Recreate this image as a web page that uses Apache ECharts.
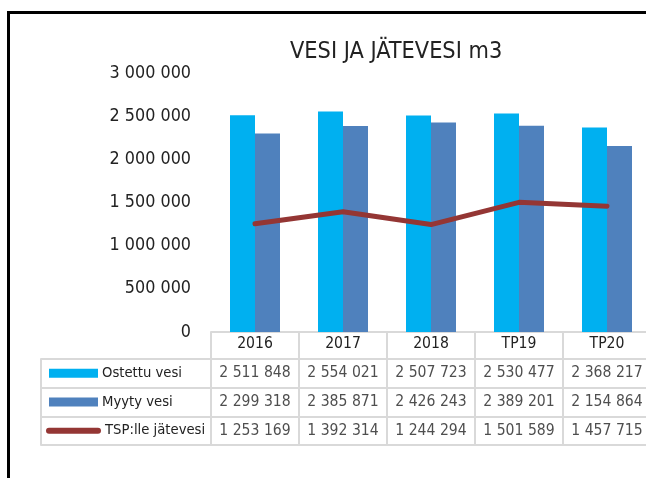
<!DOCTYPE html>
<html>
<head>
<meta charset="utf-8">
<script src="https://cdn.jsdelivr.net/npm/echarts@6/dist/echarts.min.js"></script>
<style>
html,body{margin:0;padding:0;background:#fff;}
#c{width:646px;height:478px;}
</style>
</head>
<body>
<div id="c"></div>
<script>
var categories = ['2016', '2017', '2018', 'TP19', 'TP20'];
var ostettuVesi = [2511848, 2554021, 2507723, 2530477, 2368217];
var myytyVesi = [2299318, 2385871, 2426243, 2389201, 2154864];
var tspJatevesi = [1253169, 1392314, 1244294, 1501589, 1457715];
var seriesNames = ['Ostettu vesi', 'Myyty vesi', 'TSP:lle jätevesi'];
var yTicks = [0, 500000, 1000000, 1500000, 2000000, 2500000, 3000000];
var titleText = 'VESI JA JÄTEVESI m3';

var TXT = '#222222';
var GRID_LINE = '#d9d9d9';
var C_A = '#00b0f0', C_B = '#4f81bd', C_L = '#943634';

function fmt(v) { return String(v).replace(/\B(?=(\d{3})+(?!\d))/g, ' '); }

// pick a narrow font if available
var cv = document.createElement('canvas').getContext('2d');
function w(font, size, s) { cv.font = size + 'px ' + font; return cv.measureText(s).width; }
function has(f) {
  var s = 'abcdefghijklmnopqrstuvwxyz0123456789ABCDEFGHIJ';
  var q = "'" + f + "'";
  return w(q + ', monospace', 40, s) !== w('monospace', 40, s) || w(q + ', serif', 40, s) !== w('serif', 40, s);
}
var cands = ['Liberation Sans Narrow', 'Arial Narrow', 'DejaVu Sans Condensed', 'Roboto Condensed', 'Open Sans Condensed', 'Liberation Sans'];
var FONT = 'sans-serif';
for (var i = 0; i < cands.length; i++) { if (has(cands[i])) { FONT = "'" + cands[i] + "'"; break; } }
function fit(s, target) { return Math.round(100 * target / w(FONT, 100, s) * 10) / 10; }

var fsTitle = fit(titleText, 212);
var fsY = Math.round(fit('3 000 000', 73) * 1.12 * 10) / 10;
var fsNum = Math.round(fit('2 511 848', 65) * 1.1 * 10) / 10;
var fsRow = Math.round(fit('TSP:lle jätevesi', 100) * 10) / 10;
var titleW = w(FONT, fsTitle, titleText);

var rows = [ostettuVesi, myytyVesi, tspJatevesi];
var tableData = [];
rows.forEach(function (arr, r) {
  arr.forEach(function (v, c) { tableData.push([c, r, v]); });
});

var chart = echarts.init(document.getElementById('c'), null, {renderer: 'canvas'});
chart.setOption({
  animation: false,
  backgroundColor: '#fff',
  textStyle: {fontFamily: FONT},
  title: {
    text: titleText,
    left: Math.round(396 - titleW / 2), top: Math.round(52 - fsTitle / 2),
    padding: 0,
    textStyle: {fontFamily: FONT, fontSize: fsTitle, fontWeight: 'normal', color: TXT}
  },
  graphic: [{
    type: 'rect', shape: {x: 8.5, y: 12.5, width: 700, height: 520},
    style: {fill: 'none', stroke: '#000', lineWidth: 3}, silent: true
  }],
  grid: [
    {left: 211, width: 440, top: 73, height: 259, outerBoundsMode: 'none', containLabel: false},
    {left: 41, width: 170, top: 359, height: 86, outerBoundsMode: 'none', containLabel: false},
    {left: 211, width: 440, top: 359, height: 86, outerBoundsMode: 'none', containLabel: false}
  ],
  xAxis: [
    {
      type: 'category', gridIndex: 0, data: categories,
      axisLine: {lineStyle: {color: GRID_LINE, width: 2}},
      axisTick: {show: true, length: 26, lineStyle: {color: GRID_LINE, width: 2}},
      axisLabel: {margin: 4, fontSize: fsNum, color: TXT, fontFamily: FONT, interval: 0}
    },
    {type: 'value', gridIndex: 1, show: false, min: 0, max: 1},
    {
      type: 'category', gridIndex: 2, data: categories,
      axisLine: {show: false}, axisTick: {show: false}, axisLabel: {show: false},
      splitLine: {show: true, lineStyle: {color: GRID_LINE, width: 2}}
    }
  ],
  yAxis: [
    {
      type: 'value', gridIndex: 0, min: yTicks[0], max: yTicks[yTicks.length - 1], interval: yTicks[1] - yTicks[0],
      axisLine: {show: false}, axisTick: {show: false}, splitLine: {show: false},
      axisLabel: {margin: 20, fontSize: fsY, color: TXT, fontFamily: FONT, formatter: function (v) { return fmt(v); }}
    },
    {
      type: 'category', gridIndex: 1, data: seriesNames, inverse: true,
      axisLine: {show: true, lineStyle: {color: GRID_LINE, width: 2}},
      axisTick: {show: false},
      splitLine: {show: true, lineStyle: {color: GRID_LINE, width: 2}},
      axisLabel: {
        inside: true, margin: 5, fontSize: fsRow, color: TXT, fontFamily: FONT,
        formatter: function (v, i) {
          var k = ['a', 'b', 'l'][i];
          return (k === 'l' ? '' : '{sp|}') + '{' + k + '|}{t|' + v + '}';
        },
        rich: {
          sp: {width: 3, height: 9},
          a: {width: 49, height: 9, backgroundColor: C_A},
          b: {width: 49, height: 9, backgroundColor: C_B},
          l: {width: 55, height: 6, backgroundColor: C_L, borderRadius: 3},
          t: {fontSize: fsRow, color: TXT, fontFamily: FONT, padding: [0, 0, 0, 4]}
        }
      }
    },
    {
      type: 'category', gridIndex: 2, data: seriesNames, inverse: true,
      axisLine: {show: true, lineStyle: {color: GRID_LINE, width: 2}},
      axisTick: {show: false}, axisLabel: {show: false},
      splitLine: {show: true, lineStyle: {color: GRID_LINE, width: 2}}
    }
  ],
  series: [
    {
      name: seriesNames[0], type: 'bar', xAxisIndex: 0, yAxisIndex: 0,
      data: ostettuVesi, barWidth: 25, barGap: '0%', itemStyle: {color: C_A}
    },
    {
      name: seriesNames[1], type: 'bar', xAxisIndex: 0, yAxisIndex: 0,
      data: myytyVesi, barWidth: 25, barGap: '0%', itemStyle: {color: C_B}
    },
    {
      name: seriesNames[2], type: 'line', xAxisIndex: 0, yAxisIndex: 0,
      data: tspJatevesi, symbol: 'none',
      lineStyle: {color: C_L, width: 5, cap: 'round', join: 'round'}, z: 5
    },
    {
      type: 'scatter', xAxisIndex: 2, yAxisIndex: 2, data: tableData,
      symbolSize: 1, itemStyle: {color: 'rgba(0,0,0,0)'},
      label: {
        show: true, position: 'inside', fontSize: fsNum, color: TXT, fontFamily: FONT,
        formatter: function (p) { return fmt(p.value[2]); }
      }
    }
  ]
});
</script>
</body>
</html>
